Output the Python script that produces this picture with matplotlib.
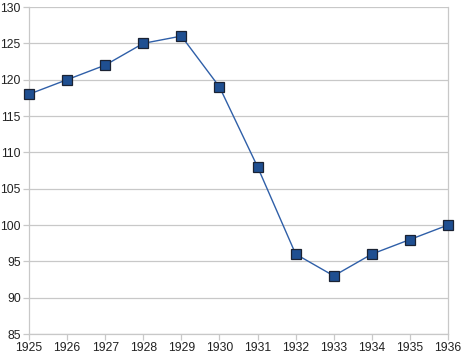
import matplotlib.pyplot as plt

years = ['1925', '1926', '1927', '1928', '1929', '1930',
         '1931', '1932', '1933', '1934', '1935', '1936']
values = [118, 120, 122, 125, 126, 119, 108, 96, 93, 96, 98, 100]

plt.rcParams['font.family'] = ['Liberation Sans', 'DejaVu Sans']

fig = plt.figure(figsize=(4.62, 3.58), dpi=100)
ax = fig.add_axes([0.0628, 0.067, 0.907, 0.9134])

x = list(range(len(years)))
ax.plot(x, values, color='#2f5fa8', linewidth=1.0, marker='s',
        markersize=6.5, markerfacecolor='#1f4f91',
        markeredgecolor='#1a2233', markeredgewidth=0.9, zorder=3,
        clip_on=False)

ax.set_xlim(0, len(years) - 1)
ax.set_ylim(85, 130)
ax.set_yticks(range(85, 131, 5))
ax.set_xticks(x)
ax.set_xticklabels(years)

ax.grid(axis='y', color='#c8c8c8', linewidth=0.9)
for s in ax.spines.values():
    s.set_color('#c8c8c8')
    s.set_linewidth(0.9)
ax.spines['top'].set_visible(False)

ax.tick_params(axis='both', colors='#c8c8c8', labelcolor='#222222',
               labelsize=8.7, length=4, width=0.9)
ax.tick_params(axis='x', pad=2)
ax.tick_params(axis='y', pad=2)

fig.savefig('out.png', dpi=100)
